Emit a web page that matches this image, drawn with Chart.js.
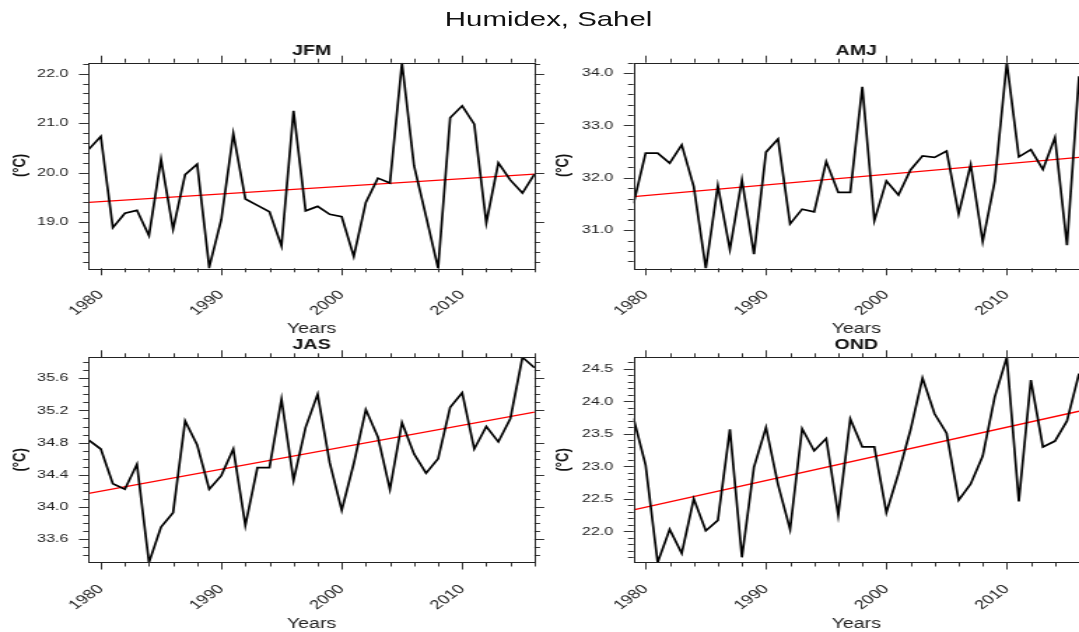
<!DOCTYPE html>
<html>
<head>
<meta charset="utf-8">
<script src="https://cdn.jsdelivr.net/npm/chart.js@4.4.0/dist/chart.umd.min.js"></script>
<style>
  html, body { margin: 0; padding: 0; background: #fff; overflow: hidden; }
  /* the reference is stretched sideways, so draw narrow and stretch */
  #wrap { position: absolute; left: 0; top: 0; width: 771px; height: 640px; transform: scaleX(1.3995); transform-origin: 0 0; }
  #wrap canvas { position: absolute; }
  #title { position: absolute; left: 0; top: 7px; width: 784px; line-height: 24px; text-align: center;
           font-family: "Liberation Sans", Arial, sans-serif; font-size: 21px; color: #111; }
</style>
</head>
<body>
<div id="wrap">
  <div id="title">Humidex, Sahel</div>
  <canvas id="jfm" width="390" height="302" style="left:0px;top:36px"></canvas>
  <canvas id="amj" width="381" height="302" style="left:390px;top:36px"></canvas>
  <canvas id="jas" width="390" height="304" style="left:0px;top:330px"></canvas>
  <canvas id="ond" width="381" height="304" style="left:390px;top:330px"></canvas>
</div>
<script>
const years = [1979, 1980, 1981, 1982, 1983, 1984, 1985, 1986, 1987, 1988,
               1989, 1990, 1991, 1992, 1993, 1994, 1995, 1996, 1997, 1998,
               1999, 2000, 2001, 2002, 2003, 2004, 2005, 2006, 2007, 2008,
               2009, 2010, 2011, 2012, 2013, 2014, 2015, 2016];

const jfm = [20.47, 20.73, 18.89, 19.18, 19.24, 18.73, 20.27, 18.86, 19.96, 20.17,
             18.09, 19.05, 20.79, 19.47, 19.34, 19.21, 18.52, 21.25, 19.23, 19.32,
             19.16, 19.11, 18.31, 19.40, 19.89, 19.79, 22.22, 20.14, 19.12, 18.07,
             21.11, 21.35, 20.98, 18.99, 20.20, 19.85, 19.59, 19.97];
const amj = [31.51, 32.47, 32.47, 32.28, 32.63, 31.83, 30.27, 31.85, 30.63, 31.96,
             30.54, 32.49, 32.74, 31.12, 31.40, 31.35, 32.31, 31.72, 31.72, 33.74,
             31.18, 31.94, 31.67, 32.15, 32.42, 32.39, 32.51, 31.31, 32.25, 30.78,
             31.93, 34.20, 32.40, 32.54, 32.16, 32.77, 30.71, 33.94];
const jas = [34.83, 34.72, 34.29, 34.22, 34.53, 33.31, 33.75, 33.93, 35.07, 34.77,
             34.22, 34.39, 34.72, 33.77, 34.49, 34.49, 35.34, 34.33, 34.99, 35.40,
             34.55, 33.96, 34.54, 35.21, 34.87, 34.22, 35.05, 34.66, 34.42, 34.60,
             35.24, 35.42, 34.72, 35.00, 34.81, 35.10, 35.86, 35.73];
const ond = [23.74, 23.02, 21.52, 22.03, 21.66, 22.50, 22.01, 22.17, 23.57, 21.60,
             22.99, 23.60, 22.72, 22.03, 23.58, 23.24, 23.43, 22.25, 23.73, 23.30,
             23.30, 22.29, 22.89, 23.56, 24.36, 23.81, 23.51, 22.48, 22.73, 23.16,
             24.07, 24.68, 22.46, 24.33, 23.30, 23.39, 23.70, 24.43];

// red trend line, ends
const trendYears = [1979, 2016];
const trendJFM = [19.40, 19.97];
const trendAMJ = [31.64, 32.39];
const trendJAS = [34.17, 35.18];
const trendOND = [22.33, 23.85];

const xTicks = [1980, 1990, 2000, 2010];
const yTicksJFM = [19.0, 20.0, 21.0, 22.0];
const yTicksAMJ = [31.0, 32.0, 33.0, 34.0];
const yTicksJAS = [33.6, 34.0, 34.4, 34.8, 35.2, 35.6];
const yTicksOND = [22.0, 22.5, 23.0, 23.5, 24.0, 24.5];

const FONT = '"Liberation Sans", Arial, Helvetica, sans-serif';

// NCL style: box plus tick marks pointing outwards on all four sides
const outwardTicks = {
  id: 'outwardTicks',
  afterDraw(chart, args, opts) {
    const { ctx, chartArea: a } = chart;
    const x = chart.scales.x, y = chart.scales.y;
    ctx.save();
    ctx.strokeStyle = '#333';
    ctx.lineWidth = 1;
    ctx.beginPath();
    // x: minor every 2 years, major on the labels
    for (let k = Math.ceil(x.min / 2); k * 2 <= x.max; k++) {
      const v = k * 2;
      const px = Math.round(x.getPixelForValue(v)) + 0.5;
      const len = opts.xMajor.includes(v) ? 7 : 4;
      ctx.moveTo(px, a.bottom); ctx.lineTo(px, a.bottom + len);
      ctx.moveTo(px, a.top); ctx.lineTo(px, a.top - len);
    }
    const st = opts.yMinor;
    for (let k = Math.ceil(y.min / st - 1e-6); k * st <= y.max + 1e-6; k++) {
      const v = k * st;
      const py = Math.round(y.getPixelForValue(v)) + 0.5;
      const major = opts.yMajor.some(t => Math.abs(t - v) < 1e-6);
      const len = major ? 7 : 4;
      ctx.moveTo(a.left, py); ctx.lineTo(a.left - len, py);
      ctx.moveTo(a.right, py); ctx.lineTo(a.right + len, py);
    }
    ctx.stroke();
    ctx.strokeStyle = '#222';
    ctx.strokeRect(Math.round(a.left) + 0.5, Math.round(a.top) + 0.5,
                   Math.round(a.width), Math.round(a.height));
    ctx.restore();
  }
};

function makePanel(id, name, values, trend, yTicks, yMinor, geo) {
  const ctx = document.getElementById(id).getContext('2d');
  return new Chart(ctx, {
    type: 'line',
    data: {
      datasets: [
        {
          data: years.map((yr, i) => ({ x: yr, y: values[i] })),
          borderColor: '#000',
          borderWidth: 1.7,
          pointRadius: 0,
          tension: 0,
          fill: false,
        },
        {
          data: trendYears.map((yr, i) => ({ x: yr, y: trend[i] })),
          borderColor: '#ff0000',
          borderWidth: 1.3,
          pointRadius: 0,
          tension: 0,
          fill: false,
        },
      ],
    },
    options: {
      responsive: false,
      animation: false,
      events: [],
      layout: { padding: { left: 0, top: 0, right: geo.padRight, bottom: 0 } },
      plugins: {
        legend: { display: false },
        tooltip: { enabled: false },
        title: {
          display: true,
          text: name,
          fullSize: false,
          color: '#111',
          font: { family: FONT, size: 14, weight: 'bold', lineHeight: 1.2 },
          padding: { top: geo.titleTop, bottom: geo.titleBottom },
        },
        outwardTicks: { xMajor: xTicks, yMajor: yTicks, yMinor: yMinor },
      },
      scales: {
        x: {
          type: 'linear',
          min: years[0],
          max: years[years.length - 1],
          afterFit: (s) => { s.height = geo.xAxisH; },
          afterBuildTicks: (s) => { s.ticks = xTicks.map(v => ({ value: v })); },
          grid: { display: false, drawTicks: false },
          border: { display: false },
          ticks: {
            autoSkip: false,
            minRotation: 45,
            maxRotation: 45,
            padding: 19,
            color: '#222',
            font: { family: FONT, size: 13 },
            callback: (v) => String(v),
          },
          title: {
            display: true,
            text: 'Years',
            color: '#222',
            font: { family: FONT, size: 14, lineHeight: 1.2 },
            padding: { top: 0, bottom: geo.yearsPad },
          },
        },
        y: {
          type: 'linear',
          min: Math.min(...values),
          max: Math.max(...values),
          afterFit: (s) => { s.width = geo.yAxisW; },
          afterBuildTicks: (s) => { s.ticks = yTicks.map(v => ({ value: v })); },
          grid: { display: false, drawTicks: false },
          border: { display: false },
          ticks: {
            padding: 14.5,
            color: '#222',
            font: { family: FONT, size: 11.5 },
            callback: (v) => v.toFixed(1),
          },
          title: {
            display: true,
            text: '(°C)',
            color: '#111',
            font: { family: FONT, size: 13, weight: 'bold', lineHeight: 1.2 },
            padding: { top: geo.unitPad, bottom: 0 },
          },
        },
      },
    },
    plugins: [outwardTicks],
  });
}

const topLeft  = { padRight: 8.1, yAxisW: 63.4, xAxisH: 69.7, titleTop: 6.9, titleBottom: 3.0, yearsPad: 0.3, unitPad: 6.3 };
const topRight = { padRight: 0,   yAxisW: 62.7, xAxisH: 69.7, titleTop: 6.9, titleBottom: 3.0, yearsPad: 0.3, unitPad: 5.1 };
const botLeft  = { padRight: 8.1, yAxisW: 63.4, xAxisH: 71.5, titleTop: 7.0, titleBottom: 3.5, yearsPad: 1.3, unitPad: 6.3 };
const botRight = { padRight: 0,   yAxisW: 62.7, xAxisH: 71.5, titleTop: 7.0, titleBottom: 3.5, yearsPad: 1.3, unitPad: 5.1 };

makePanel('jfm', 'JFM', jfm, trendJFM, yTicksJFM, 0.2, topLeft);
makePanel('amj', 'AMJ', amj, trendAMJ, yTicksAMJ, 0.2, topRight);
makePanel('jas', 'JAS', jas, trendJAS, yTicksJAS, 0.1, botLeft);
makePanel('ond', 'OND', ond, trendOND, yTicksOND, 0.1, botRight);
</script>
</body>
</html>
